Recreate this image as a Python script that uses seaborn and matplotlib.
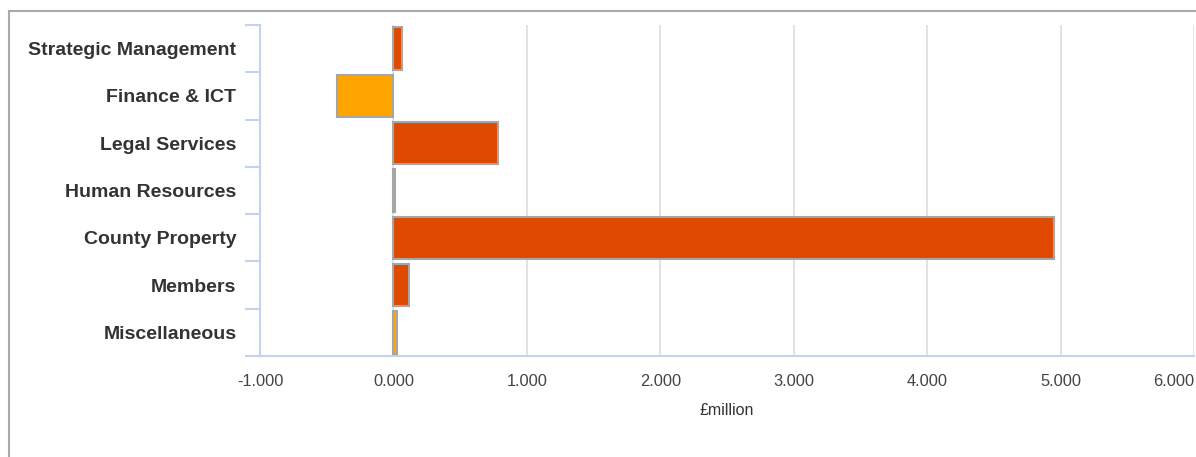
import matplotlib
matplotlib.use("Agg")
import matplotlib.pyplot as plt
import seaborn as sns
import pandas as pd
from matplotlib.patches import Rectangle
from matplotlib.ticker import FixedLocator, FormatStrFormatter

services = ["Strategic Management", "Finance & ICT", "Legal Services",
            "Human Resources", "County Property", "Members", "Miscellaneous"]
variance = [0.063, -0.42, 0.78, 0.015, 4.95, 0.113, 0.025]
bar_colors = ["#E04A00", "#FFA500", "#E04A00", "#A9A9A9", "#E04A00", "#E04A00", "#FFA500"]
x_ticks = [-1, 0, 1, 2, 3, 4, 5, 6]

df = pd.DataFrame({"service": services, "variance": variance})

sns.set_theme(style="white")
plt.rcParams["font.family"] = ["Liberation Sans", "DejaVu Sans"]

fig = plt.figure(figsize=(11.96, 4.57), dpi=100)
ax = fig.add_axes([260 / 1196, 1 - 356 / 457, (1194 - 260) / 1196, (356 - 25) / 457])

sns.barplot(data=df, x="variance", y="service", hue="service", palette=bar_colors,
            saturation=1, orient="h", width=0.9, edgecolor="#A6A6A6", linewidth=1.5,
            legend=False, ax=ax, zorder=3)

ax.set_xlim(-1, 6)
ax.set_ylim(6.5, -0.5)
ax.xaxis.set_major_locator(FixedLocator(x_ticks))
ax.xaxis.set_major_formatter(FormatStrFormatter("%.3f"))
ax.grid(axis="x", color="#DCDCE4", linewidth=1.2, zorder=0)
ax.set_axisbelow(True)

for side in ["top", "right"]:
    ax.spines[side].set_visible(False)
for side in ["left", "bottom"]:
    ax.spines[side].set_color("#C5D2EE")
    ax.spines[side].set_linewidth(1.5)

ax.yaxis.set_minor_locator(FixedLocator([i - 0.5 for i in range(len(services) + 1)]))
ax.tick_params(axis="y", which="minor", length=10.8, width=1.5, color="#C5D2EE", left=True)
ax.tick_params(axis="y", which="major", length=0, pad=17, labelsize=14, labelcolor="#333333")
ax.tick_params(axis="x", which="major", length=0, pad=13, labelsize=11.8, labelcolor="#444444")
for lbl in ax.get_yticklabels():
    lbl.set_fontweight("bold")
ax.get_xticklabels()[-1].set_horizontalalignment("right")

ax.set_ylabel("")
ax.set_xlabel("£million", fontsize=11.5, color="#333333", labelpad=10)

fig.patches.append(Rectangle((8.5 / 1196, -0.05), 1.2, 1 - 10.5 / 457 + 0.05,
                             transform=fig.transFigure, fill=False,
                             edgecolor="#AAAAAA", linewidth=1.5, zorder=0))

fig.savefig("out.png", dpi=100, facecolor="white")
